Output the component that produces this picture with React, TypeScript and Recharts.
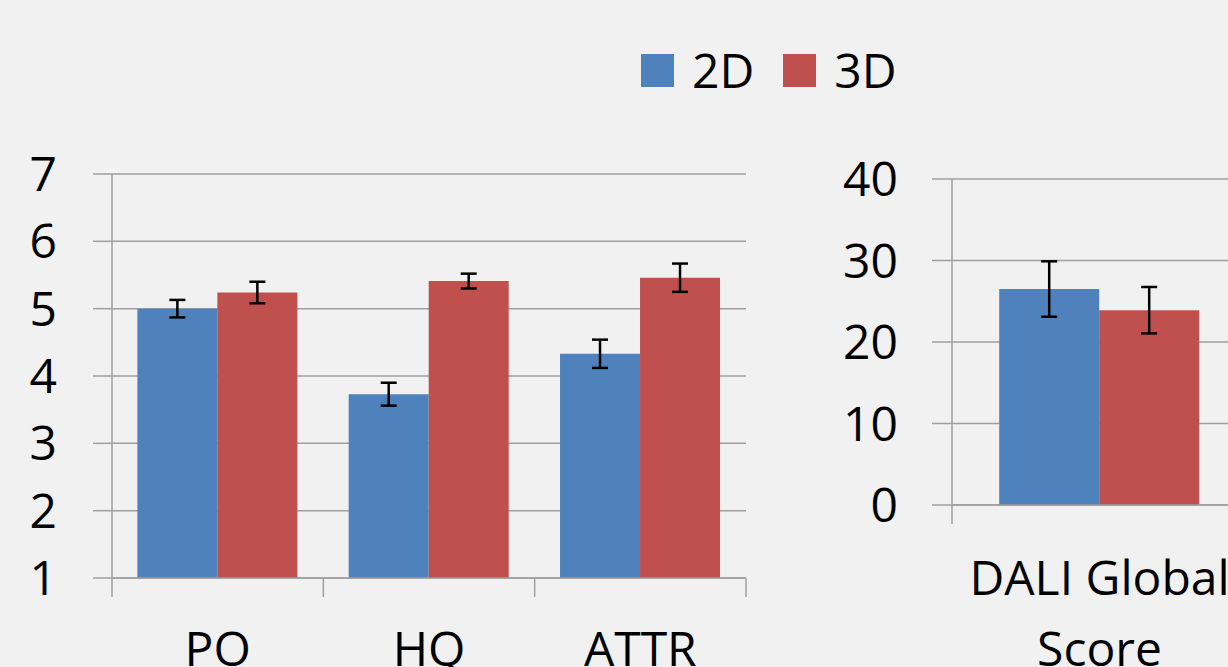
import { BarChart, Bar, XAxis, YAxis, CartesianGrid, ErrorBar } from 'recharts';

// Left panel: rating scales
const categories = ['PO', 'HQ', 'ATTR'];
const mean2D = [5.0, 3.73, 4.33];
const mean3D = [5.24, 5.41, 5.46];
const err2D = [0.13, 0.17, 0.21];
const err3D = [0.16, 0.11, 0.21];
const leftTicks = [1, 2, 3, 4, 5, 6, 7];

// Right panel: DALI score
const daliCategories = ['DALI Global Score'];
const dali2D = [26.5];
const dali3D = [23.9];
const daliErr2D = [3.4];
const daliErr3D = [2.85];
const rightTicks = [0, 10, 20, 30, 40];

const seriesNames = ['2D', '3D'];

const BLUE = '#4f81bd';
const RED = '#c0504d';
const LINE = '#9f9f9f';
const FONT = '"Open Sans", sans-serif';
const seriesColors = [BLUE, RED];

const leftData = categories.map((name, i) => ({
  name,
  d2: mean2D[i],
  d3: mean3D[i],
  e2: err2D[i],
  e3: err3D[i],
}));

const rightData = daliCategories.map((name, i) => ({
  name,
  d2: dali2D[i],
  d3: dali3D[i],
  e2: daliErr2D[i],
  e3: daliErr3D[i],
}));

const tickStyle = { fill: '#000', fontSize: 48, fontFamily: FONT };

const TICK_LEN = 19;

// category tick: label at band centre, tick marks at the band edges (Excel style)
function makeCatTick(margin: number, wrap: boolean) {
  return function CatTick(props: any) {
    const { x, y, payload, index, visibleTicksCount } = props;
    const half = payload.offset || 0;
    const axisY = y - margin;
    const words = String(payload.value).split(' ');
    const last = words.pop();
    return (
      <g>
        <line x1={x - half} x2={x - half} y1={axisY} y2={axisY + TICK_LEN} stroke={LINE} strokeWidth={1.5} />
        {index === visibleTicksCount - 1 && (
          <line x1={x + half} x2={x + half} y1={axisY} y2={axisY + TICK_LEN} stroke={LINE} strokeWidth={1.5} />
        )}
        {wrap ? (
          <text x={x} y={y} textAnchor="middle" fill="#000" fontSize={48} fontFamily={FONT}>
            <tspan x={x} dy="0.71em">{words.join(' ')}</tspan>
            <tspan x={x} dy={71}>{last}</tspan>
          </text>
        ) : (
          <text x={x} y={y} dy="0.71em" textAnchor="middle" fill="#000" fontSize={48} fontFamily={FONT}>
            {payload.value}
          </text>
        )}
      </g>
    );
  };
}

const LeftTick = makeCatTick(54, false);
const RightTick = makeCatTick(56, true);

export default function App() {
  return (
    <div
      style={{
        position: 'fixed',
        left: 0,
        top: 0,
        width: 1228,
        height: 667,
        overflow: 'hidden',
        background: '#f1f1f1',
        fontFamily: FONT,
      }}
    >
      {/* legend */}
      <div
        style={{
          position: 'absolute',
          left: 641,
          top: 46,
          display: 'flex',
          alignItems: 'center',
          fontSize: 48,
          lineHeight: 1,
        }}
      >
        {seriesNames.map((n, i) => (
          <div key={n} style={{ display: 'flex', alignItems: 'center', marginRight: 29 }}>
            <span style={{ width: 33, height: 33, background: seriesColors[i], display: 'inline-block' }} />
            <span style={{ marginLeft: 18, color: '#000' }}>{n}</span>
          </div>
        ))}
      </div>

      <div style={{ position: 'absolute', left: 0, top: 0 }}>
        <BarChart
          width={760}
          height={720}
          data={leftData}
          margin={{ top: 174, right: 14, left: 0, bottom: 0 }}
          barCategoryGap="12%"
          barGap={0}
        >
          <CartesianGrid vertical={false} stroke={LINE} strokeWidth={1.5} />
          <XAxis
            dataKey="name"
            interval={0}
            axisLine={{ stroke: LINE, strokeWidth: 1.5 }}
            tickLine={false}
            tickSize={0}
            tickMargin={54}
            height={142}
            tick={<LeftTick />}
          />
          <YAxis
            width={112}
            domain={[1, 7]}
            ticks={leftTicks}
            interval={0}
            tickSize={19}
            tickMargin={36}
            axisLine={{ stroke: LINE, strokeWidth: 1.5 }}
            tickLine={{ stroke: LINE, strokeWidth: 1.5 }}
            tick={tickStyle}
          />
          <Bar dataKey="d2" name={seriesNames[0]} fill={BLUE} isAnimationActive={false}>
            <ErrorBar dataKey="e2" width={8} stroke="#000" strokeWidth={2.5} direction="y" />
          </Bar>
          <Bar dataKey="d3" name={seriesNames[1]} fill={RED} isAnimationActive={false}>
            <ErrorBar dataKey="e3" width={8} stroke="#000" strokeWidth={2.5} direction="y" />
          </Bar>
        </BarChart>
      </div>

      <div style={{ position: 'absolute', left: 800, top: 0 }}>
        <BarChart
          width={447}
          height={720}
          data={rightData}
          margin={{ top: 179, right: 0, left: 0, bottom: 0 }}
          barCategoryGap="16%"
          barGap={0}
        >
          <CartesianGrid vertical={false} stroke={LINE} strokeWidth={1.5} />
          <XAxis
            dataKey="name"
            interval={0}
            axisLine={{ stroke: LINE, strokeWidth: 1.5 }}
            tickLine={false}
            tickSize={0}
            tickMargin={56}
            height={215}
            tick={<RightTick />}
          />
          <YAxis
            width={152}
            domain={[0, 40]}
            ticks={rightTicks}
            interval={0}
            tickSize={20}
            tickMargin={34}
            axisLine={{ stroke: LINE, strokeWidth: 1.5 }}
            tickLine={{ stroke: LINE, strokeWidth: 1.5 }}
            tick={tickStyle}
          />
          <Bar dataKey="d2" name={seriesNames[0]} fill={BLUE} isAnimationActive={false}>
            <ErrorBar dataKey="e2" width={8} stroke="#000" strokeWidth={2.5} direction="y" />
          </Bar>
          <Bar dataKey="d3" name={seriesNames[1]} fill={RED} isAnimationActive={false}>
            <ErrorBar dataKey="e3" width={8} stroke="#000" strokeWidth={2.5} direction="y" />
          </Bar>
        </BarChart>
      </div>
    </div>
  );
}
